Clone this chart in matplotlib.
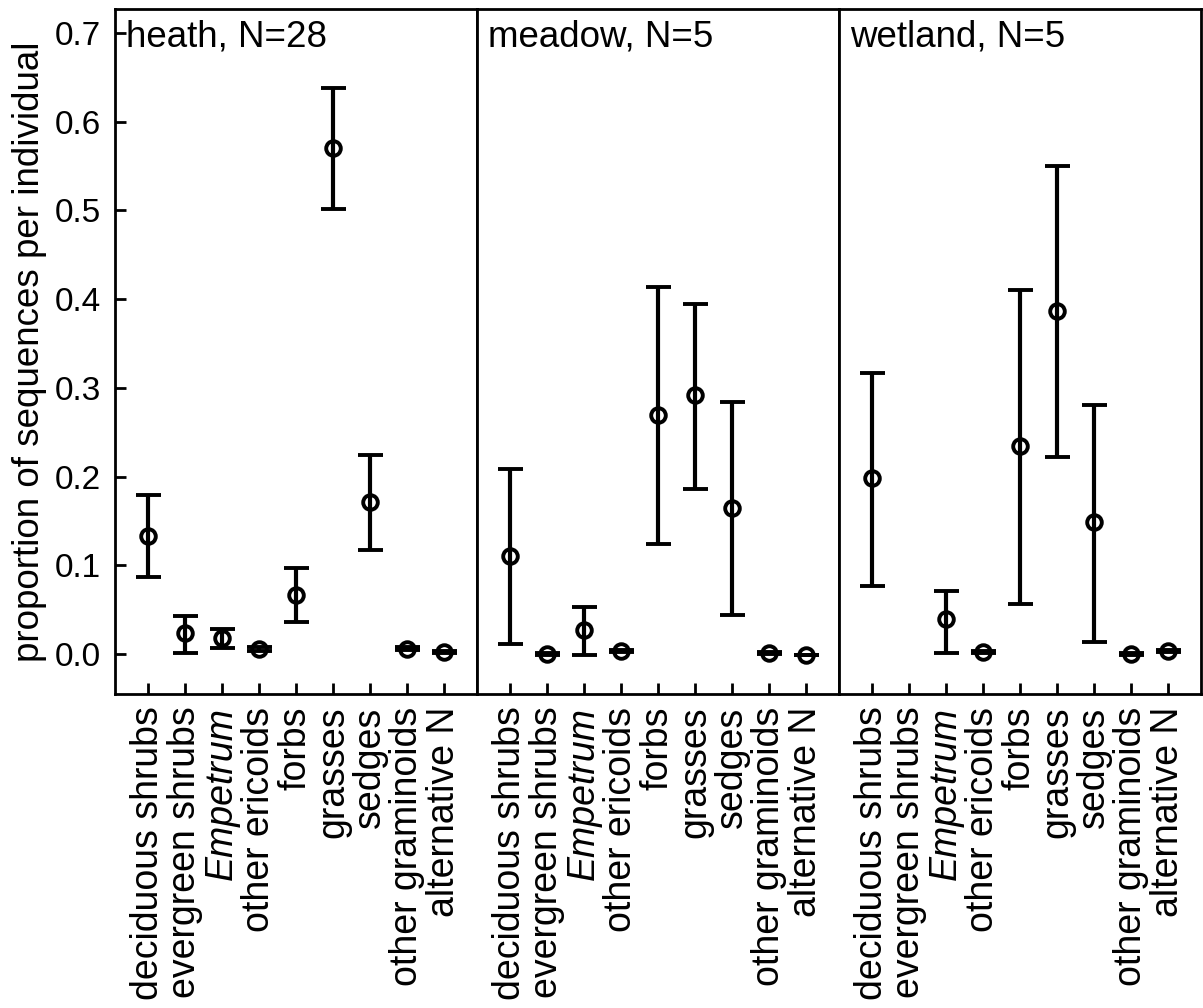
import numpy as np
import matplotlib
matplotlib.use("Agg")
import matplotlib.pyplot as plt

plt.rcParams['font.family'] = ['Liberation Sans', 'DejaVu Sans']

categories = ["deciduous shrubs", "evergreen shrubs", "Empetrum", "other ericoids",
              "forbs", "grasses", "sedges", "other graminoids", "alternative N"]
panel_titles = ["heath, N=28", "meadow, N=5", "wetland, N=5"]

heath_mean = [0.133, 0.024, 0.018, 0.006, 0.067, 0.570, 0.171, 0.006, 0.0025]
heath_low  = [0.087, 0.0015, 0.0065, 0.004, 0.036, 0.502, 0.117, 0.0045, 0.0015]
heath_high = [0.179, 0.043, 0.028, 0.008, 0.097, 0.638, 0.224, 0.0075, 0.0035]

meadow_mean = [0.111, 0.000, 0.027, 0.0035, 0.269, 0.292, 0.165, 0.001, -0.001]
meadow_low  = [0.011, -0.001, -0.0015, 0.0025, 0.124, 0.186, 0.044, 0.0, -0.0015]
meadow_high = [0.209, 0.001, 0.053, 0.0045, 0.414, 0.395, 0.284, 0.002, -0.0005]

wetland_mean = [0.198, np.nan, 0.039, 0.0025, 0.234, 0.387, 0.1485, 0.0, 0.0035]
wetland_low  = [0.0765, np.nan, 0.0015, 0.0015, 0.056, 0.2225, 0.0136, -0.001, 0.0025]
wetland_high = [0.317, np.nan, 0.0715, 0.0035, 0.410, 0.550, 0.281, 0.001, 0.0045]

yticks = [0.0, 0.1, 0.2, 0.3, 0.4, 0.5, 0.6, 0.7]

data = [(heath_mean, heath_low, heath_high),
        (meadow_mean, meadow_low, meadow_high),
        (wetland_mean, wetland_low, wetland_high)]

fig = plt.figure(figsize=(12.03, 10.08), dpi=100)
left, right = 115 / 1203, 1201 / 1203
bottom, top = 1 - 694 / 1008, 1 - 9 / 1008
w = (right - left) / 3
x = np.arange(1, len(categories) + 1)

for i, (mean, low, high) in enumerate(data):
    ax = fig.add_axes([left + i * w, bottom, w, top - bottom])
    mean = np.array(mean, dtype=float)
    low = np.array(low, dtype=float)
    high = np.array(high, dtype=float)
    yerr = np.vstack([mean - low, high - mean])
    ax.errorbar(x, mean, yerr=yerr, fmt='o', color='black', mfc='none', mec='black',
                ms=10.5, mew=2.8, elinewidth=3.0, capsize=9, capthick=3.0, zorder=3)
    ax.set_xlim(0.11, 9.89)
    ax.set_ylim(-0.045, 0.727)
    ax.set_xticks(x)
    ax.set_xticklabels(categories, rotation=90, fontsize=27)
    ax.get_xticklabels()[2].set_fontstyle('italic')
    ax.set_yticks(yticks)
    if i == 0:
        ax.set_yticklabels([f"{v:.1f}" for v in yticks], fontsize=24)
        ax.tick_params(axis='y', direction='in', length=8, width=2, pad=10)
        ax.set_ylabel("proportion of sequences per individual", fontsize=26.5, labelpad=6)
    else:
        ax.tick_params(axis='y', left=False, labelleft=False)
    ax.tick_params(axis='x', direction='in', length=8, width=2, pad=9)
    for sp in ax.spines.values():
        sp.set_linewidth(2)
    ax.text(0.03, 0.985, panel_titles[i], transform=ax.transAxes, ha='left', va='top',
            fontsize=26.5)

fig.savefig("out.png", dpi=100)
